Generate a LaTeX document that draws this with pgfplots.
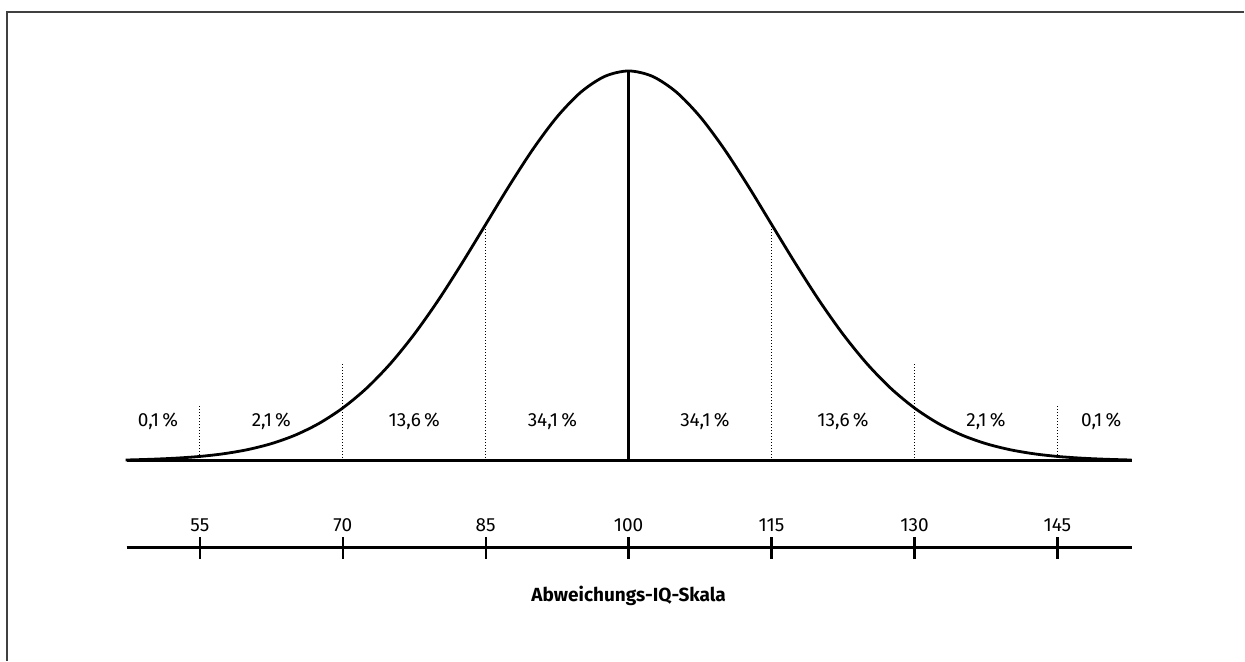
\documentclass[border=0pt]{standalone}
\usepackage{pgfplots}
\pgfplotsset{compat=1.18}
\usepackage{fontspec}
\setmainfont{Fira Sans}

% normal curve, sigma = 15, peak scaled to 390 units
\pgfplotstableread{
x     y
47.2  0.7
50    1.5
52.5  2.6
55    4.3
57.5  7.0
60    11.1
62.5  17.1
65    25.6
67.5  37.3
70    52.8
72.5  72.6
75    97.2
77.5  126.6
80    160.3
82.5  197.5
85    236.5
87.5  275.6
90    312.3
92.5  344.2
95    368.9
97.5  384.6
100   390.0
102.5 384.6
105   368.9
107.5 344.2
110   312.3
112.5 275.6
115   236.5
117.5 197.5
120   160.3
122.5 126.6
125   97.2
127.5 72.6
130   52.8
132.5 37.3
135   25.6
137.5 17.1
140   11.1
142.5 7.0
145   4.3
147.5 2.6
150   1.5
152.8 0.7
}\curve

\begin{document}
\begin{tikzpicture}
\begin{axis}[
    width = 622.5pt,
    height = 330.5pt,
    scale only axis,
    hide axis,
    clip = false,
    xmin = 34.02, xmax = 164.62,
    ymin = -200, ymax = 461,
    font = \fontsize{9.5}{11}\selectfont,
]
% keep the whole axis area as the picture
\path (rel axis cs:0,0) rectangle (rel axis cs:1,1);
% frame (top and left edges)
\draw[line width=0.7pt, black!75] (axis cs:34.75,-200) -- (axis cs:34.75,449) -- (axis cs:164.62,449);

% dotted separators
\addplot[densely dotted, line width=0.5pt] coordinates {(55,0) (55,56)};
\addplot[densely dotted, line width=0.5pt] coordinates {(70,0) (70,99)};
\addplot[densely dotted, line width=0.5pt] coordinates {(85,0) (85,236.5)};
\addplot[densely dotted, line width=0.5pt] coordinates {(115,0) (115,236.5)};
\addplot[densely dotted, line width=0.5pt] coordinates {(130,0) (130,99)};
\addplot[densely dotted, line width=0.5pt] coordinates {(145,0) (145,56)};

% baseline and curve
\addplot[line width=1.4pt] coordinates {(47.3,0) (152.8,0)};
\addplot[line width=1.4pt, smooth] table[x=x, y=y] {\curve};
\addplot[line width=1.7pt] coordinates {(100,0) (100,390)};

% percentages
\node at (axis cs:50.6,39)  {0,1\,\%};
\node at (axis cs:62.5,39)  {2,1\,\%};
\node at (axis cs:77.5,39)  {13,6\,\%};
\node at (axis cs:92,39)    {34,1\,\%};
\node at (axis cs:108,39)   {34,1\,\%};
\node at (axis cs:122.5,39) {13,6\,\%};
\node at (axis cs:137.5,39) {2,1\,\%};
\node at (axis cs:149.6,39) {0,1\,\%};

% IQ scale
\addplot[line width=1.2pt] coordinates {(47.3,-87) (152.8,-87)};
\addplot[line width=1.2pt, unbounded coords=jump] coordinates {
    (55,-98) (55,-76) (55,nan)
    (70,-98) (70,-76) (70,nan)
    (85,-98) (85,-76) (85,nan)
    (100,-98) (100,-76) (100,nan)
    (115,-98) (115,-76) (115,nan)
    (130,-98) (130,-76) (130,nan)
    (145,-98) (145,-76)
};
\foreach \v in {55,70,85,100,115,130,145} {
    \edef\temp{\noexpand\node at (axis cs:\v,-64.5) {\v};}
    \temp
}
\node[font=\fontsize{9.5}{11}\selectfont\bfseries] at (axis cs:100,-135) {Abweichungs-IQ-Skala};
\end{axis}
\end{tikzpicture}
\end{document}
